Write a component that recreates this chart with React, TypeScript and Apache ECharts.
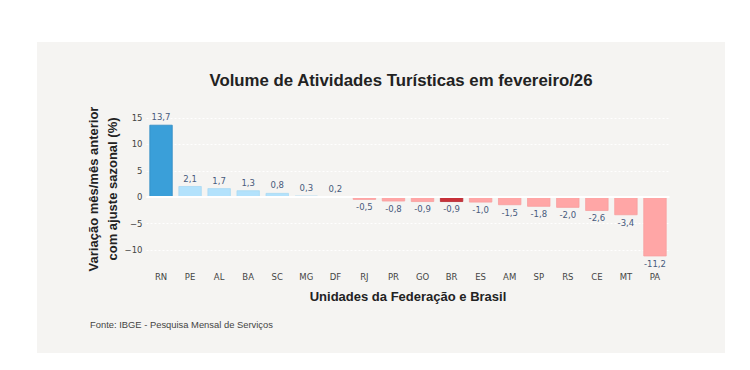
import React, { useEffect, useRef } from "react";
import * as echarts from "echarts";

const categories = ["RN", "PE", "AL", "BA", "SC", "MG", "DF", "RJ", "PR", "GO", "BR", "ES", "AM", "SP", "RS", "CE", "MT", "PA"];
const values = [13.7, 2.1, 1.7, 1.3, 0.8, 0.3, 0.2, -0.5, -0.8, -0.9, -0.9, -1.0, -1.5, -1.8, -2.0, -2.6, -3.4, -11.2];
const yTicks = [-10, -5, 0, 5, 10, 15];

const highlightTop = "RN";
const highlightBrasil = "BR";

export default function App() {
  const ref = useRef<HTMLDivElement>(null);
  useEffect(() => {
    if (!ref.current) return;
    const chart = echarts.init(ref.current, null, { renderer: "svg" });
    const tickFont = "DejaVu Sans";
    const data = values.map((v, i) => {
      const c = categories[i];
      let color = v >= 0 ? "#b3e2fc" : "#ffa6a6";
      let border = v >= 0 ? "#aad9f3" : "#f7a0a0";
      if (c === highlightTop) { color = "#3a9fd9"; border = "#2f8ac4"; }
      if (c === highlightBrasil) { color = "#c8323a"; border = "#b52a32"; }
      return {
        value: v,
        itemStyle: { color, borderColor: border, borderWidth: 0.8 },
        label: { position: v >= 0 ? "top" : "bottom" },
      };
    });
    chart.setOption({
      animation: false,
      graphic: [
        {
          type: "rect",
          z: -10,
          shape: { x: 37, y: 42, width: 688, height: 311 },
          style: { fill: "#f5f4f2" },
          silent: true,
        },
        {
          type: "text",
          x: 90,
          y: 324,
          style: {
            text: "Fonte: IBGE - Pesquisa Mensal de Serviços",
            fill: "#444",
            font: "9.4px 'Liberation Sans'",
            verticalAlign: "middle",
          },
        },
      ],
      title: {
        text: "Volume de Atividades Turísticas em fevereiro/26",
        left: 396,
        top: 67,
        textAlign: "center",
        textStyle: {
          fontFamily: "Liberation Sans",
          fontWeight: "bold",
          fontSize: 16.8,
          color: "#222",
        },
      },
      grid: { left: 146.5, right: 750 - 669.5, top: 110, bottom: 102 },
      xAxis: {
        type: "category",
        data: categories,
        name: "Unidades da Federação e Brasil",
        nameLocation: "middle",
        nameGap: 22,
        nameTextStyle: {
          fontFamily: "Liberation Sans",
          fontWeight: "bold",
          fontSize: 13,
          color: "#222",
        },
        axisLine: { show: false, onZero: false },
        axisTick: { show: false },
        axisLabel: {
          margin: 4,
          fontFamily: tickFont,
          fontSize: 8.5,
          color: "#444",
        },
      },
      yAxis: {
        type: "value",
        min: -13.4,
        max: 16.5,
        name: "Variação mês/mês anterior\ncom ajuste sazonal (%)",
        nameLocation: "middle",
        nameRotate: 90,
        nameGap: 25,
        nameMoveOverlap: false,
        nameTextStyle: {
          fontFamily: "Liberation Sans",
          fontWeight: "bold",
          fontSize: 13,
          lineHeight: 19,
          color: "#222",
        },
        axisLine: { show: false },
        axisTick: { show: false },
        splitLine: {
          show: true,
          showMinLine: false,
          showMaxLine: false,
          lineStyle: { color: "#ffffff", width: 1, type: [2, 2] },
        },
        axisLabel: {
          margin: 4,
          fontFamily: tickFont,
          fontSize: 8.5,
          color: "#444",
          showMinLabel: false,
          showMaxLabel: false,
          formatter: (v: number) =>
            yTicks.includes(Math.round(v * 1000) / 1000) ? String(v).replace("-", "−") : "",
        },
      },
      series: [
        {
          type: "bar",
          data,
          barCategoryGap: "20%",
          label: {
            show: true,
            fontFamily: tickFont,
            fontSize: 8.5,
            color: "#475a7c",
            distance: 3,
            formatter: (p: any) => p.value.toFixed(1).replace(".", ","),
          },
          markLine: {
            silent: true,
            symbol: "none",
            label: { show: false },
            lineStyle: { color: "#ffffff", width: 2, type: "solid" },
            data: [{ yAxis: 0 }],
          },
        },
      ],
    });
    return () => chart.dispose();
  }, []);
  return (
    <div
      ref={ref}
      style={{ position: "fixed", left: 0, top: 0, width: 750, height: 370, background: "#ffffff" }}
    />
  );
}
